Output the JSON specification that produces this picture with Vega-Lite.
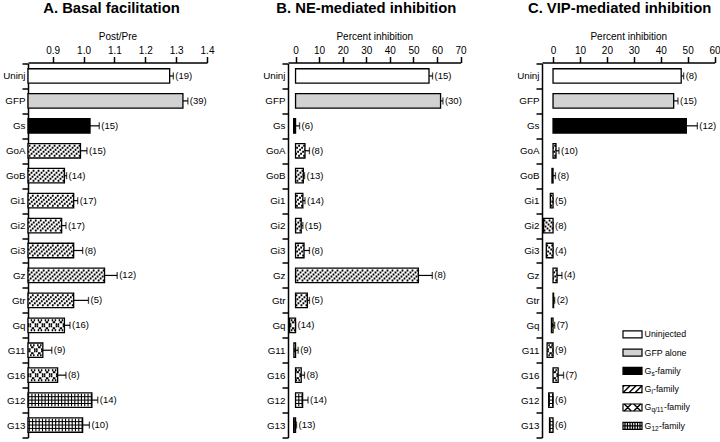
{
  "$schema": "https://vega.github.io/schema/vega-lite/v6.json",
  "padding": {"left": 2, "top": 0.5, "right": 0, "bottom": 0},
  "bounds": "flush",
  "spacing": 81,
  "config": {
    "font": "Liberation Sans",
    "view": {"stroke": null},
    "axis": {"domainColor": "black", "domainWidth": 1.5, "tickColor": "black", "tickWidth": 1.5, "tickSize": 6, "labelColor": "black", "titleColor": "black", "labelFont": "Liberation Sans", "titleFont": "Liberation Sans", "labelFontSize": 10, "titleFontSize": 10, "titleFontWeight": "normal", "grid": false, "labelOverlap": false},
    "title": {"fontSize": 14.8, "fontWeight": "bold", "anchor": "middle", "color": "black", "font": "Liberation Sans", "offset": 15.5}
  },
  "datasets": {
    "bars": [
      {"p":"A","g":"Uninj","fam":"Uninjected","v":1.279,"hi":1.291,"lab":"(19)"},
      {"p":"A","g":"GFP","fam":"GFP","v":1.322,"hi":1.338,"lab":"(39)"},
      {"p":"A","g":"Gs","fam":"Gs","v":1.021,"hi":1.051,"lab":"(15)"},
      {"p":"A","g":"GoA","fam":"Gi","v":0.99,"hi":1.011,"lab":"(15)"},
      {"p":"A","g":"GoB","fam":"Gi","v":0.938,"hi":0.945,"lab":"(14)"},
      {"p":"A","g":"Gi1","fam":"Gi","v":0.968,"hi":0.981,"lab":"(17)"},
      {"p":"A","g":"Gi2","fam":"Gi","v":0.929,"hi":0.943,"lab":"(17)"},
      {"p":"A","g":"Gi3","fam":"Gi","v":0.968,"hi":0.997,"lab":"(8)"},
      {"p":"A","g":"Gz","fam":"Gi","v":1.068,"hi":1.109,"lab":"(12)"},
      {"p":"A","g":"Gtr","fam":"Gi","v":0.968,"hi":1.016,"lab":"(5)"},
      {"p":"A","g":"Gq","fam":"Gq","v":0.938,"hi":0.956,"lab":"(16)"},
      {"p":"A","g":"G11","fam":"Gq","v":0.868,"hi":0.897,"lab":"(9)"},
      {"p":"A","g":"G16","fam":"Gq","v":0.916,"hi":0.943,"lab":"(8)"},
      {"p":"A","g":"G12","fam":"G12","v":1.027,"hi":1.046,"lab":"(14)"},
      {"p":"A","g":"G13","fam":"G12","v":0.997,"hi":1.019,"lab":"(10)"},
      {"p":"B","g":"Uninj","fam":"Uninjected","v":56.6,"hi":58.1,"lab":"(15)"},
      {"p":"B","g":"GFP","fam":"GFP","v":61.5,"hi":62.5,"lab":"(30)"},
      {"p":"B","g":"Gs","fam":"Gs","v":-0.8,"hi":1.7,"lab":"(6)"},
      {"p":"B","g":"GoA","fam":"Gi","v":4.0,"hi":5.9,"lab":"(8)"},
      {"p":"B","g":"GoB","fam":"Gi","v":3.3,"hi":3.8,"lab":"(13)"},
      {"p":"B","g":"Gi1","fam":"Gi","v":3.1,"hi":4.0,"lab":"(14)"},
      {"p":"B","g":"Gi2","fam":"Gi","v":2.4,"hi":3.1,"lab":"(15)"},
      {"p":"B","g":"Gi3","fam":"Gi","v":3.6,"hi":5.9,"lab":"(8)"},
      {"p":"B","g":"Gz","fam":"Gi","v":52.1,"hi":58.0,"lab":"(8)"},
      {"p":"B","g":"Gtr","fam":"Gi","v":5.0,"hi":5.9,"lab":"(5)"},
      {"p":"B","g":"Gq","fam":"Gq","v":-2.5,"hi":0,"lab":"(14)"},
      {"p":"B","g":"G11","fam":"Gq","v":-0.7,"hi":1.1,"lab":"(9)"},
      {"p":"B","g":"G16","fam":"Gq","v":2.4,"hi":3.8,"lab":"(8)"},
      {"p":"B","g":"G12","fam":"G12","v":3.0,"hi":5.3,"lab":"(14)"},
      {"p":"B","g":"G13","fam":"G12","v":-0.8,"hi":0.4,"lab":"(13)"},
      {"p":"C","g":"Uninj","fam":"Uninjected","v":47.6,"hi":48.5,"lab":"(8)"},
      {"p":"C","g":"GFP","fam":"GFP","v":44.8,"hi":46.4,"lab":"(15)"},
      {"p":"C","g":"Gs","fam":"Gs","v":49.5,"hi":53.6,"lab":"(12)"},
      {"p":"C","g":"GoA","fam":"Gi","v":1.1,"hi":2.2,"lab":"(10)"},
      {"p":"C","g":"GoB","fam":"Gi","v":-0.4,"hi":0.9,"lab":"(8)"},
      {"p":"C","g":"Gi1","fam":"Gi","v":-1.0,"hi":0,"lab":"(5)"},
      {"p":"C","g":"Gi2","fam":"Gi","v":-3.5,"hi":0,"lab":"(8)"},
      {"p":"C","g":"Gi3","fam":"Gi","v":-2.5,"hi":0,"lab":"(4)"},
      {"p":"C","g":"Gz","fam":"Gi","v":1.5,"hi":3.3,"lab":"(4)"},
      {"p":"C","g":"Gtr","fam":"Gi","v":0.2,"hi":0.6,"lab":"(2)"},
      {"p":"C","g":"Gq","fam":"Gq","v":-0.6,"hi":0.6,"lab":"(7)"},
      {"p":"C","g":"G11","fam":"Gq","v":-2.2,"hi":0,"lab":"(9)"},
      {"p":"C","g":"G16","fam":"Gq","v":1.9,"hi":3.9,"lab":"(7)"},
      {"p":"C","g":"G12","fam":"G12","v":-1.6,"hi":0,"lab":"(6)"},
      {"p":"C","g":"G13","fam":"G12","v":-1.3,"hi":0,"lab":"(6)"}
    ],
    "legend": [
      {"i":1,"fam":"Uninjected","t":"Uninjected","sub":""},
      {"i":2,"fam":"GFP","t":"GFP alone","sub":""},
      {"i":3,"fam":"Gs","t":"G","sub":"s"},
      {"i":4,"fam":"Gi","t":"G","sub":"i"},
      {"i":5,"fam":"Gq","t":"G","sub":"q/11"},
      {"i":6,"fam":"G12","t":"G","sub":"12"}
    ]
  },
  "hconcat": [
    {
      "width": 179, "height": 374,
      "title": {"text": "A. Basal facilitation", "dx": -6},
      "data": {"name": "bars"},
      "transform": [{"filter": "datum.p === 'A'"}],
      "encoding": {"y": {"field": "g", "type": "nominal", "scale": {"domain": ["Uninj","GFP","Gs","GoA","GoB","Gi1","Gi2","Gi3","Gz","Gtr","Gq","G11","G16","G12","G13"], "paddingInner": 0, "paddingOuter": 0}, "axis": {"title": null, "tickBand": "extent", "labelPadding": -3, "labelFontSize": 9.8}}},
      "layer": [
        {"mark": {"type": "rule", "color": "black", "strokeWidth": 1.2}, "encoding": {"x": {"field": "v", "type": "quantitative", "scale": {"domain": [0.82, 1.4], "nice": false, "zero": false}, "axis": {"orient": "top", "offset": 1, "title": "Post/Pre", "values": [0.9, 1.0, 1.1, 1.2, 1.3, 1.4], "tickCount": 20, "format": ".1f", "labelPadding": 1, "titlePadding": 4, "labelFlush": false, "labelOverlap": false, "labelSeparation": 0, "labelBound": false}}, "x2": {"field": "hi"}}},
        {"mark": {"type": "tick", "color": "black", "size": 7, "thickness": 1.3}, "encoding": {"x": {"field": "hi", "type": "quantitative"}}},
        {"mark": {"type": "text", "align": "left", "baseline": "middle", "dx": 2, "fontSize": 9.5, "color": "black"}, "encoding": {"x": {"field": "hi", "type": "quantitative"}, "text": {"field": "lab", "type": "nominal"}}},
        {"mark": {"type": "bar", "height": {"band": 0.58}, "strokeWidth": 0}, "encoding": {"x": {"field": "v", "type": "quantitative"}, "x2": {"datum": 0.82}, "fill": {"field": "fam", "type": "nominal", "scale": {"domain": ["Uninjected","GFP","Gs","Gi","Gq","G12"], "range": ["#ffffff","#d2d2d2","#000000","#ffffff","#ffffff","#ffffff"]}, "legend": null}}},
        {"transform": [{"filter": "datum.fam === 'Gi'"}], "mark": {"type": "rule", "color": "black", "strokeWidth": 2, "yOffset": -5, "strokeDash": [1.8, 3.2], "strokeDashOffset": 10}, "encoding": {"x": {"field": "v", "type": "quantitative"}, "x2": {"datum": 0.82}}},
        {"transform": [{"filter": "datum.fam === 'Gi'"}], "mark": {"type": "rule", "color": "black", "strokeWidth": 2, "yOffset": -3, "strokeDash": [1.8, 3.2], "strokeDashOffset": 8}, "encoding": {"x": {"field": "v", "type": "quantitative"}, "x2": {"datum": 0.82}}},
        {"transform": [{"filter": "datum.fam === 'Gi'"}], "mark": {"type": "rule", "color": "black", "strokeWidth": 2, "yOffset": -1, "strokeDash": [1.8, 3.2], "strokeDashOffset": 6}, "encoding": {"x": {"field": "v", "type": "quantitative"}, "x2": {"datum": 0.82}}},
        {"transform": [{"filter": "datum.fam === 'Gi'"}], "mark": {"type": "rule", "color": "black", "strokeWidth": 2, "yOffset": 1, "strokeDash": [1.8, 3.2], "strokeDashOffset": 4}, "encoding": {"x": {"field": "v", "type": "quantitative"}, "x2": {"datum": 0.82}}},
        {"transform": [{"filter": "datum.fam === 'Gi'"}], "mark": {"type": "rule", "color": "black", "strokeWidth": 2, "yOffset": 3, "strokeDash": [1.8, 3.2], "strokeDashOffset": 2}, "encoding": {"x": {"field": "v", "type": "quantitative"}, "x2": {"datum": 0.82}}},
        {"transform": [{"filter": "datum.fam === 'Gi'"}], "mark": {"type": "rule", "color": "black", "strokeWidth": 2, "yOffset": 5, "strokeDash": [1.8, 3.2], "strokeDashOffset": 0}, "encoding": {"x": {"field": "v", "type": "quantitative"}, "x2": {"datum": 0.82}}},
        {"transform": [{"filter": "datum.fam === 'Gq'"}], "mark": {"type": "rule", "color": "black", "strokeWidth": 2, "yOffset": -5, "strokeDash": [1.5, 1.5, 1.5, 2.5], "strokeDashOffset": 5.75}, "encoding": {"x": {"field": "v", "type": "quantitative"}, "x2": {"datum": 0.82}}},
        {"transform": [{"filter": "datum.fam === 'Gq'"}], "mark": {"type": "rule", "color": "black", "strokeWidth": 2, "yOffset": -3, "strokeDash": [2.5, 4.5], "strokeDashOffset": 4.75}, "encoding": {"x": {"field": "v", "type": "quantitative"}, "x2": {"datum": 0.82}}},
        {"transform": [{"filter": "datum.fam === 'Gq'"}], "mark": {"type": "rule", "color": "black", "strokeWidth": 2, "yOffset": -1, "strokeDash": [1.5, 0.5, 1.5, 3.5], "strokeDashOffset": 1.75}, "encoding": {"x": {"field": "v", "type": "quantitative"}, "x2": {"datum": 0.82}}},
        {"transform": [{"filter": "datum.fam === 'Gq'"}], "mark": {"type": "rule", "color": "black", "strokeWidth": 2, "yOffset": 1, "strokeDash": [1.5, 0.5, 1.5, 3.5], "strokeDashOffset": 1.75}, "encoding": {"x": {"field": "v", "type": "quantitative"}, "x2": {"datum": 0.82}}},
        {"transform": [{"filter": "datum.fam === 'Gq'"}], "mark": {"type": "rule", "color": "black", "strokeWidth": 2, "yOffset": 3, "strokeDash": [2.5, 4.5], "strokeDashOffset": 4.75}, "encoding": {"x": {"field": "v", "type": "quantitative"}, "x2": {"datum": 0.82}}},
        {"transform": [{"filter": "datum.fam === 'Gq'"}], "mark": {"type": "rule", "color": "black", "strokeWidth": 2, "yOffset": 5, "strokeDash": [1.5, 1.5, 1.5, 2.5], "strokeDashOffset": 5.75}, "encoding": {"x": {"field": "v", "type": "quantitative"}, "x2": {"datum": 0.82}}},
        {"transform": [{"filter": "datum.fam === 'G12'"}], "mark": {"type": "rule", "color": "black", "strokeWidth": 12.5, "strokeDash": [1.1, 2.2]}, "encoding": {"x": {"field": "v", "type": "quantitative"}, "x2": {"datum": 0.82}}},
        {"transform": [{"filter": "datum.fam === 'G12'"}], "mark": {"type": "rule", "color": "black", "strokeWidth": 1, "yOffset": -3.4}, "encoding": {"x": {"field": "v", "type": "quantitative"}, "x2": {"datum": 0.82}}},
        {"transform": [{"filter": "datum.fam === 'G12'"}], "mark": {"type": "rule", "color": "black", "strokeWidth": 1, "yOffset": 0}, "encoding": {"x": {"field": "v", "type": "quantitative"}, "x2": {"datum": 0.82}}},
        {"transform": [{"filter": "datum.fam === 'G12'"}], "mark": {"type": "rule", "color": "black", "strokeWidth": 1, "yOffset": 3.4}, "encoding": {"x": {"field": "v", "type": "quantitative"}, "x2": {"datum": 0.82}}},
        {"mark": {"type": "bar", "height": {"band": 0.58}, "filled": false, "color": "black", "strokeWidth": 1.3}, "encoding": {"x": {"field": "v", "type": "quantitative"}, "x2": {"datum": 0.82}}}
      ]
    },
    {
      "width": 172.6, "height": 374,
      "title": {"text": "B. NE-mediated inhibition", "dx": -8},
      "data": {"name": "bars"},
      "transform": [{"filter": "datum.p === 'B'"}],
      "encoding": {"y": {"field": "g", "type": "nominal", "scale": {"domain": ["Uninj","GFP","Gs","GoA","GoB","Gi1","Gi2","Gi3","Gz","Gtr","Gq","G11","G16","G12","G13"], "paddingInner": 0, "paddingOuter": 0}, "axis": {"title": null, "tickBand": "extent", "labelPadding": -3, "labelFontSize": 9.8}}},
      "layer": [
        {"mark": {"type": "rule", "color": "black", "strokeWidth": 1.2}, "encoding": {"x": {"field": "v", "type": "quantitative", "scale": {"domain": [-3.2, 70], "nice": false, "zero": false}, "axis": {"orient": "top", "offset": 1, "title": "Percent inhibition", "values": [0, 10, 20, 30, 40, 50, 60, 70], "tickCount": 20, "labelPadding": 1, "titlePadding": 4, "labelFlush": false, "labelOverlap": false, "labelSeparation": 0, "labelBound": false}}, "x2": {"field": "hi"}}},
        {"mark": {"type": "tick", "color": "black", "size": 7, "thickness": 1.3}, "encoding": {"x": {"field": "hi", "type": "quantitative"}}},
        {"mark": {"type": "text", "align": "left", "baseline": "middle", "dx": 2, "fontSize": 9.5, "color": "black"}, "encoding": {"x": {"field": "hi", "type": "quantitative"}, "text": {"field": "lab", "type": "nominal"}}},
        {"mark": {"type": "bar", "height": {"band": 0.58}, "strokeWidth": 0}, "encoding": {"x": {"field": "v", "type": "quantitative"}, "x2": {"datum": 0}, "fill": {"field": "fam", "type": "nominal", "scale": {"domain": ["Uninjected","GFP","Gs","Gi","Gq","G12"], "range": ["#ffffff","#d2d2d2","#000000","#ffffff","#ffffff","#ffffff"]}, "legend": null}}},
        {"transform": [{"filter": "datum.fam === 'Gi'"}], "mark": {"type": "rule", "color": "black", "strokeWidth": 2, "yOffset": -5, "strokeDash": [1.8, 3.2], "strokeDashOffset": 10}, "encoding": {"x": {"field": "v", "type": "quantitative"}, "x2": {"datum": 0}}},
        {"transform": [{"filter": "datum.fam === 'Gi'"}], "mark": {"type": "rule", "color": "black", "strokeWidth": 2, "yOffset": -3, "strokeDash": [1.8, 3.2], "strokeDashOffset": 8}, "encoding": {"x": {"field": "v", "type": "quantitative"}, "x2": {"datum": 0}}},
        {"transform": [{"filter": "datum.fam === 'Gi'"}], "mark": {"type": "rule", "color": "black", "strokeWidth": 2, "yOffset": -1, "strokeDash": [1.8, 3.2], "strokeDashOffset": 6}, "encoding": {"x": {"field": "v", "type": "quantitative"}, "x2": {"datum": 0}}},
        {"transform": [{"filter": "datum.fam === 'Gi'"}], "mark": {"type": "rule", "color": "black", "strokeWidth": 2, "yOffset": 1, "strokeDash": [1.8, 3.2], "strokeDashOffset": 4}, "encoding": {"x": {"field": "v", "type": "quantitative"}, "x2": {"datum": 0}}},
        {"transform": [{"filter": "datum.fam === 'Gi'"}], "mark": {"type": "rule", "color": "black", "strokeWidth": 2, "yOffset": 3, "strokeDash": [1.8, 3.2], "strokeDashOffset": 2}, "encoding": {"x": {"field": "v", "type": "quantitative"}, "x2": {"datum": 0}}},
        {"transform": [{"filter": "datum.fam === 'Gi'"}], "mark": {"type": "rule", "color": "black", "strokeWidth": 2, "yOffset": 5, "strokeDash": [1.8, 3.2], "strokeDashOffset": 0}, "encoding": {"x": {"field": "v", "type": "quantitative"}, "x2": {"datum": 0}}},
        {"transform": [{"filter": "datum.fam === 'Gq'"}], "mark": {"type": "rule", "color": "black", "strokeWidth": 2, "yOffset": -5, "strokeDash": [1.5, 1.5, 1.5, 2.5], "strokeDashOffset": 5.75}, "encoding": {"x": {"field": "v", "type": "quantitative"}, "x2": {"datum": 0}}},
        {"transform": [{"filter": "datum.fam === 'Gq'"}], "mark": {"type": "rule", "color": "black", "strokeWidth": 2, "yOffset": -3, "strokeDash": [2.5, 4.5], "strokeDashOffset": 4.75}, "encoding": {"x": {"field": "v", "type": "quantitative"}, "x2": {"datum": 0}}},
        {"transform": [{"filter": "datum.fam === 'Gq'"}], "mark": {"type": "rule", "color": "black", "strokeWidth": 2, "yOffset": -1, "strokeDash": [1.5, 0.5, 1.5, 3.5], "strokeDashOffset": 1.75}, "encoding": {"x": {"field": "v", "type": "quantitative"}, "x2": {"datum": 0}}},
        {"transform": [{"filter": "datum.fam === 'Gq'"}], "mark": {"type": "rule", "color": "black", "strokeWidth": 2, "yOffset": 1, "strokeDash": [1.5, 0.5, 1.5, 3.5], "strokeDashOffset": 1.75}, "encoding": {"x": {"field": "v", "type": "quantitative"}, "x2": {"datum": 0}}},
        {"transform": [{"filter": "datum.fam === 'Gq'"}], "mark": {"type": "rule", "color": "black", "strokeWidth": 2, "yOffset": 3, "strokeDash": [2.5, 4.5], "strokeDashOffset": 4.75}, "encoding": {"x": {"field": "v", "type": "quantitative"}, "x2": {"datum": 0}}},
        {"transform": [{"filter": "datum.fam === 'Gq'"}], "mark": {"type": "rule", "color": "black", "strokeWidth": 2, "yOffset": 5, "strokeDash": [1.5, 1.5, 1.5, 2.5], "strokeDashOffset": 5.75}, "encoding": {"x": {"field": "v", "type": "quantitative"}, "x2": {"datum": 0}}},
        {"transform": [{"filter": "datum.fam === 'G12'"}], "mark": {"type": "rule", "color": "black", "strokeWidth": 12.5, "strokeDash": [1.1, 2.2]}, "encoding": {"x": {"field": "v", "type": "quantitative"}, "x2": {"datum": 0}}},
        {"transform": [{"filter": "datum.fam === 'G12'"}], "mark": {"type": "rule", "color": "black", "strokeWidth": 1, "yOffset": -3.4}, "encoding": {"x": {"field": "v", "type": "quantitative"}, "x2": {"datum": 0}}},
        {"transform": [{"filter": "datum.fam === 'G12'"}], "mark": {"type": "rule", "color": "black", "strokeWidth": 1, "yOffset": 0}, "encoding": {"x": {"field": "v", "type": "quantitative"}, "x2": {"datum": 0}}},
        {"transform": [{"filter": "datum.fam === 'G12'"}], "mark": {"type": "rule", "color": "black", "strokeWidth": 1, "yOffset": 3.4}, "encoding": {"x": {"field": "v", "type": "quantitative"}, "x2": {"datum": 0}}},
        {"mark": {"type": "bar", "height": {"band": 0.58}, "filled": false, "color": "black", "strokeWidth": 1.3}, "encoding": {"x": {"field": "v", "type": "quantitative"}, "x2": {"datum": 0}}}
      ]
    },
    {
      "width": 172.6, "height": 374,
      "title": {"text": "C. VIP-mediated inhibition", "dx": -8.7},
      "resolve": {"scale": {"x": "independent", "y": "independent"}},
      "layer": [
        {
          "data": {"name": "bars"},
          "transform": [{"filter": "datum.p === 'C'"}],
          "encoding": {"y": {"field": "g", "type": "nominal", "scale": {"domain": ["Uninj","GFP","Gs","GoA","GoB","Gi1","Gi2","Gi3","Gz","Gtr","Gq","G11","G16","G12","G13"], "paddingInner": 0, "paddingOuter": 0}, "axis": {"title": null, "tickBand": "extent", "labelPadding": -3, "labelFontSize": 9.8}}},
          "layer": [
            {"mark": {"type": "rule", "color": "black", "strokeWidth": 1.2}, "encoding": {"x": {"field": "v", "type": "quantitative", "scale": {"domain": [-4.1, 60], "nice": false, "zero": false}, "axis": {"orient": "top", "offset": 1, "title": "Percent inhibition", "values": [0, 10, 20, 30, 40, 50, 60], "tickCount": 20, "labelPadding": 1, "titlePadding": 4, "labelFlush": false, "labelOverlap": false, "labelSeparation": 0, "labelBound": false}}, "x2": {"field": "hi"}}},
            {"mark": {"type": "tick", "color": "black", "size": 7, "thickness": 1.3}, "encoding": {"x": {"field": "hi", "type": "quantitative"}}},
            {"mark": {"type": "text", "align": "left", "baseline": "middle", "dx": 2, "fontSize": 9.5, "color": "black"}, "encoding": {"x": {"field": "hi", "type": "quantitative"}, "text": {"field": "lab", "type": "nominal"}}},
            {"mark": {"type": "bar", "height": {"band": 0.58}, "strokeWidth": 0}, "encoding": {"x": {"field": "v", "type": "quantitative"}, "x2": {"datum": 0}, "fill": {"field": "fam", "type": "nominal", "scale": {"domain": ["Uninjected","GFP","Gs","Gi","Gq","G12"], "range": ["#ffffff","#d2d2d2","#000000","#ffffff","#ffffff","#ffffff"]}, "legend": null}}},
            {"transform": [{"filter": "datum.fam === 'Gi'"}], "mark": {"type": "rule", "color": "black", "strokeWidth": 2, "yOffset": -5, "strokeDash": [1.8, 3.2], "strokeDashOffset": 10}, "encoding": {"x": {"field": "v", "type": "quantitative"}, "x2": {"datum": 0}}},
            {"transform": [{"filter": "datum.fam === 'Gi'"}], "mark": {"type": "rule", "color": "black", "strokeWidth": 2, "yOffset": -3, "strokeDash": [1.8, 3.2], "strokeDashOffset": 8}, "encoding": {"x": {"field": "v", "type": "quantitative"}, "x2": {"datum": 0}}},
            {"transform": [{"filter": "datum.fam === 'Gi'"}], "mark": {"type": "rule", "color": "black", "strokeWidth": 2, "yOffset": -1, "strokeDash": [1.8, 3.2], "strokeDashOffset": 6}, "encoding": {"x": {"field": "v", "type": "quantitative"}, "x2": {"datum": 0}}},
            {"transform": [{"filter": "datum.fam === 'Gi'"}], "mark": {"type": "rule", "color": "black", "strokeWidth": 2, "yOffset": 1, "strokeDash": [1.8, 3.2], "strokeDashOffset": 4}, "encoding": {"x": {"field": "v", "type": "quantitative"}, "x2": {"datum": 0}}},
            {"transform": [{"filter": "datum.fam === 'Gi'"}], "mark": {"type": "rule", "color": "black", "strokeWidth": 2, "yOffset": 3, "strokeDash": [1.8, 3.2], "strokeDashOffset": 2}, "encoding": {"x": {"field": "v", "type": "quantitative"}, "x2": {"datum": 0}}},
            {"transform": [{"filter": "datum.fam === 'Gi'"}], "mark": {"type": "rule", "color": "black", "strokeWidth": 2, "yOffset": 5, "strokeDash": [1.8, 3.2], "strokeDashOffset": 0}, "encoding": {"x": {"field": "v", "type": "quantitative"}, "x2": {"datum": 0}}},
            {"transform": [{"filter": "datum.fam === 'Gq'"}], "mark": {"type": "rule", "color": "black", "strokeWidth": 2, "yOffset": -5, "strokeDash": [1.5, 1.5, 1.5, 2.5], "strokeDashOffset": 5.75}, "encoding": {"x": {"field": "v", "type": "quantitative"}, "x2": {"datum": 0}}},
            {"transform": [{"filter": "datum.fam === 'Gq'"}], "mark": {"type": "rule", "color": "black", "strokeWidth": 2, "yOffset": -3, "strokeDash": [2.5, 4.5], "strokeDashOffset": 4.75}, "encoding": {"x": {"field": "v", "type": "quantitative"}, "x2": {"datum": 0}}},
            {"transform": [{"filter": "datum.fam === 'Gq'"}], "mark": {"type": "rule", "color": "black", "strokeWidth": 2, "yOffset": -1, "strokeDash": [1.5, 0.5, 1.5, 3.5], "strokeDashOffset": 1.75}, "encoding": {"x": {"field": "v", "type": "quantitative"}, "x2": {"datum": 0}}},
            {"transform": [{"filter": "datum.fam === 'Gq'"}], "mark": {"type": "rule", "color": "black", "strokeWidth": 2, "yOffset": 1, "strokeDash": [1.5, 0.5, 1.5, 3.5], "strokeDashOffset": 1.75}, "encoding": {"x": {"field": "v", "type": "quantitative"}, "x2": {"datum": 0}}},
            {"transform": [{"filter": "datum.fam === 'Gq'"}], "mark": {"type": "rule", "color": "black", "strokeWidth": 2, "yOffset": 3, "strokeDash": [2.5, 4.5], "strokeDashOffset": 4.75}, "encoding": {"x": {"field": "v", "type": "quantitative"}, "x2": {"datum": 0}}},
            {"transform": [{"filter": "datum.fam === 'Gq'"}], "mark": {"type": "rule", "color": "black", "strokeWidth": 2, "yOffset": 5, "strokeDash": [1.5, 1.5, 1.5, 2.5], "strokeDashOffset": 5.75}, "encoding": {"x": {"field": "v", "type": "quantitative"}, "x2": {"datum": 0}}},
            {"transform": [{"filter": "datum.fam === 'G12'"}], "mark": {"type": "rule", "color": "black", "strokeWidth": 12.5, "strokeDash": [1.1, 2.2]}, "encoding": {"x": {"field": "v", "type": "quantitative"}, "x2": {"datum": 0}}},
            {"transform": [{"filter": "datum.fam === 'G12'"}], "mark": {"type": "rule", "color": "black", "strokeWidth": 1, "yOffset": -3.4}, "encoding": {"x": {"field": "v", "type": "quantitative"}, "x2": {"datum": 0}}},
            {"transform": [{"filter": "datum.fam === 'G12'"}], "mark": {"type": "rule", "color": "black", "strokeWidth": 1, "yOffset": 0}, "encoding": {"x": {"field": "v", "type": "quantitative"}, "x2": {"datum": 0}}},
            {"transform": [{"filter": "datum.fam === 'G12'"}], "mark": {"type": "rule", "color": "black", "strokeWidth": 1, "yOffset": 3.4}, "encoding": {"x": {"field": "v", "type": "quantitative"}, "x2": {"datum": 0}}},
            {"mark": {"type": "bar", "height": {"band": 0.58}, "filled": false, "color": "black", "strokeWidth": 1.3}, "encoding": {"x": {"field": "v", "type": "quantitative"}, "x2": {"datum": 0}}}
          ]
        },
        {
          "data": {"name": "legend"},
          "encoding": {"y": {"field": "i", "type": "quantitative", "scale": {"domain": [-13.8, 6.64], "reverse": true, "nice": false, "zero": false, "padding": 0}, "axis": null}},
          "layer": [
            {"mark": {"type": "point", "filled": true, "size": 361, "shape": "M-1,-0.368H1V0.368H-1Z", "stroke": "black", "strokeWidth": 1.2, "opacity": 1}, "encoding": {"x": {"datum": 52.43, "type": "quantitative", "scale": {"domain": [0, 100], "nice": false, "zero": false}, "axis": null}, "fill": {"field": "fam", "type": "nominal", "scale": {"domain": ["Uninjected","GFP","Gs","Gi","Gq","G12"], "range": ["#ffffff","#d2d2d2","#000000","#ffffff","#ffffff","#ffffff"]}, "legend": null}}},
            {"transform": [{"filter": "datum.fam === 'Gi'"}], "mark": {"type": "point", "filled": false, "size": 361, "shape": "M-1,-0.262L-0.894,-0.368M-1,0.368L-0.264,-0.368M-0.37,0.368L0.366,-0.368M0.26,0.368L0.996,-0.368M0.89,0.368L1,0.258", "color": "black", "strokeWidth": 1.4, "opacity": 1}, "encoding": {"x": {"datum": 52.43, "type": "quantitative", "axis": null}}},
            {"transform": [{"filter": "datum.fam === 'Gq'"}], "mark": {"type": "point", "filled": false, "size": 361, "shape": "M-0.868,-0.368L-0.132,0.368M-0.868,0.368L-0.132,-0.368M0.132,-0.368L0.868,0.368M0.132,0.368L0.868,-0.368", "color": "black", "strokeWidth": 1.4, "opacity": 1}, "encoding": {"x": {"datum": 52.43, "type": "quantitative", "axis": null}}},
            {"transform": [{"filter": "datum.fam === 'G12'"}], "mark": {"type": "point", "filled": false, "size": 361, "shape": "M-0.79,-0.368V0.368M-0.53,-0.368V0.368M-0.26,-0.368V0.368M0,-0.368V0.368M0.26,-0.368V0.368M0.53,-0.368V0.368M0.79,-0.368V0.368M-1,0H1", "color": "black", "strokeWidth": 1.3, "opacity": 1}, "encoding": {"x": {"datum": 52.43, "type": "quantitative", "axis": null}}},
            {"mark": {"type": "text", "align": "left", "baseline": "middle", "fontSize": 8.8, "color": "black"}, "encoding": {"x": {"datum": 59.44, "type": "quantitative", "axis": null}, "text": {"field": "t", "type": "nominal"}}},
            {"mark": {"type": "text", "align": "left", "baseline": "middle", "fontSize": 6.5, "dx": 6.8, "dy": 3, "color": "black"}, "encoding": {"x": {"datum": 59.44, "type": "quantitative", "axis": null}, "text": {"field": "sub", "type": "nominal"}}},
            {"transform": [{"filter": "datum.i === 3"}], "mark": {"type": "text", "align": "left", "baseline": "middle", "fontSize": 8.8, "dx": 10.1, "color": "black", "text": "-family"}, "encoding": {"x": {"datum": 59.44, "type": "quantitative", "axis": null}}},
            {"transform": [{"filter": "datum.i === 4"}], "mark": {"type": "text", "align": "left", "baseline": "middle", "fontSize": 8.8, "dx": 8.4, "color": "black", "text": "-family"}, "encoding": {"x": {"datum": 59.44, "type": "quantitative", "axis": null}}},
            {"transform": [{"filter": "datum.i === 5"}], "mark": {"type": "text", "align": "left", "baseline": "middle", "fontSize": 8.8, "dx": 19.4, "color": "black", "text": "-family"}, "encoding": {"x": {"datum": 59.44, "type": "quantitative", "axis": null}}},
            {"transform": [{"filter": "datum.i === 6"}], "mark": {"type": "text", "align": "left", "baseline": "middle", "fontSize": 8.8, "dx": 14.4, "color": "black", "text": "-family"}, "encoding": {"x": {"datum": 59.44, "type": "quantitative", "axis": null}}}
          ]
        }
      ]
    }
  ]
}
